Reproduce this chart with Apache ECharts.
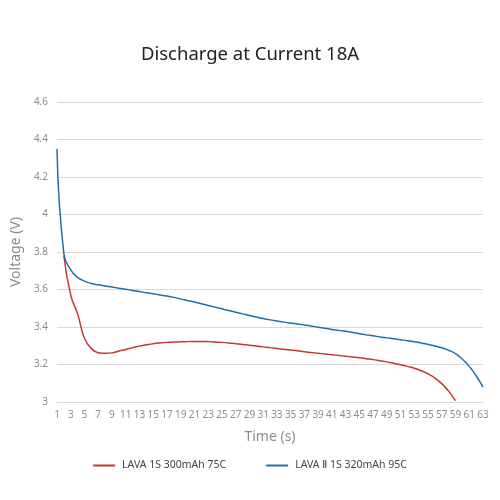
<!DOCTYPE html>
<html>
<head>
<meta charset="utf-8">
<script src="https://cdn.jsdelivr.net/npm/echarts@6/dist/echarts.min.js"></script>
<style>html,body{margin:0;padding:0;background:#fff}#c{width:500px;height:500px}</style>
</head>
<body>
<div id="c"></div>
<script>
var categories = [];
for (var i = 1; i <= 63; i++) categories.push(String(i));

var lava1 = [null, 3.78, 3.57, 3.47, 3.34, 3.285, 3.263, 3.26, 3.262, 3.272,
  3.28, 3.29, 3.298, 3.305, 3.311, 3.315, 3.318, 3.32, 3.321, 3.322,
  3.323, 3.323, 3.322, 3.32, 3.318, 3.315, 3.311, 3.307, 3.303, 3.299,
  3.294, 3.29, 3.285, 3.281, 3.277, 3.273, 3.268, 3.264, 3.26, 3.256,
  3.252, 3.248, 3.244, 3.24, 3.236, 3.231, 3.226, 3.22, 3.214, 3.207,
  3.199, 3.19, 3.18, 3.167, 3.15, 3.128, 3.098, 3.058, 3.007];

var lava2 = [4.35, 3.79, 3.705, 3.665, 3.645, 3.632, 3.625, 3.619, 3.613, 3.607,
  3.601, 3.595, 3.589, 3.583, 3.577, 3.571, 3.565, 3.558, 3.55, 3.541,
  3.533, 3.524, 3.515, 3.506, 3.497, 3.488, 3.479, 3.47, 3.461, 3.453,
  3.445, 3.438, 3.432, 3.426, 3.421, 3.416, 3.411, 3.405, 3.399, 3.393,
  3.387, 3.382, 3.377, 3.371, 3.364, 3.358, 3.353, 3.347, 3.342, 3.337,
  3.332, 3.327, 3.321, 3.315, 3.307, 3.299, 3.289, 3.276, 3.258, 3.228,
  3.19, 3.14, 3.08];

var seriesNames = ['LAVA 1S 300mAh 75C', 'LAVA \u2161 1S 320mAh 95C'];

var chart = echarts.init(document.getElementById('c'));
chart.setOption({
  backgroundColor: '#fff',
  animation: false,
  textStyle: { fontFamily: 'Noto Sans' },
  title: {
    text: 'Discharge at Current 18A',
    left: 'center',
    top: 40,
    textStyle: { fontSize: 18.5, fontWeight: 'normal', color: '#222', fontFamily: 'Noto Sans' }
  },
  legend: {
    bottom: 24,
    left: 'center',
    itemGap: 40,
    itemWidth: 22,
    itemHeight: 2,
    icon: 'rect',
    textStyle: { fontSize: 10.5, color: '#444', fontFamily: 'Noto Sans', padding: [0, 0, 0, 2] },
    data: seriesNames
  },
  grid: { left: 57, right: 17, top: 102, bottom: 98, containLabel: false },
  xAxis: {
    type: 'category',
    data: categories,
    boundaryGap: false,
    name: 'Time (s)',
    nameLocation: 'middle',
    nameGap: 28,
    nameTextStyle: { fontSize: 14, color: '#8c8c8c' },
    axisLine: { lineStyle: { color: '#d9d9d9' } },
    axisTick: { show: false },
    axisLabel: { interval: 1, fontSize: 10, color: '#8c8c8c', margin: 8 }
  },
  yAxis: {
    type: 'value',
    min: 3,
    max: 4.6,
    interval: 0.2,
    name: 'Voltage (V)',
    nameLocation: 'middle',
    nameGap: 30,
    nameTextStyle: { fontSize: 14, color: '#8c8c8c' },
    axisLine: { show: false },
    axisTick: { show: false },
    axisLabel: { fontSize: 10, color: '#8c8c8c', margin: 9 },
    splitLine: { lineStyle: { color: '#d9d9d9', width: 1 } }
  },
  series: [
    {
      name: seriesNames[0],
      type: 'line',
      data: lava1,
      smooth: true,
      showSymbol: false,
      lineStyle: { color: '#c0392b', width: 1.5 },
      itemStyle: { color: '#c0392b' }
    },
    {
      name: seriesNames[1],
      type: 'line',
      data: lava2,
      smooth: true,
      showSymbol: false,
      lineStyle: { color: '#1f6fa8', width: 1.5 },
      itemStyle: { color: '#1f6fa8' }
    }
  ]
});
</script>
</body>
</html>
